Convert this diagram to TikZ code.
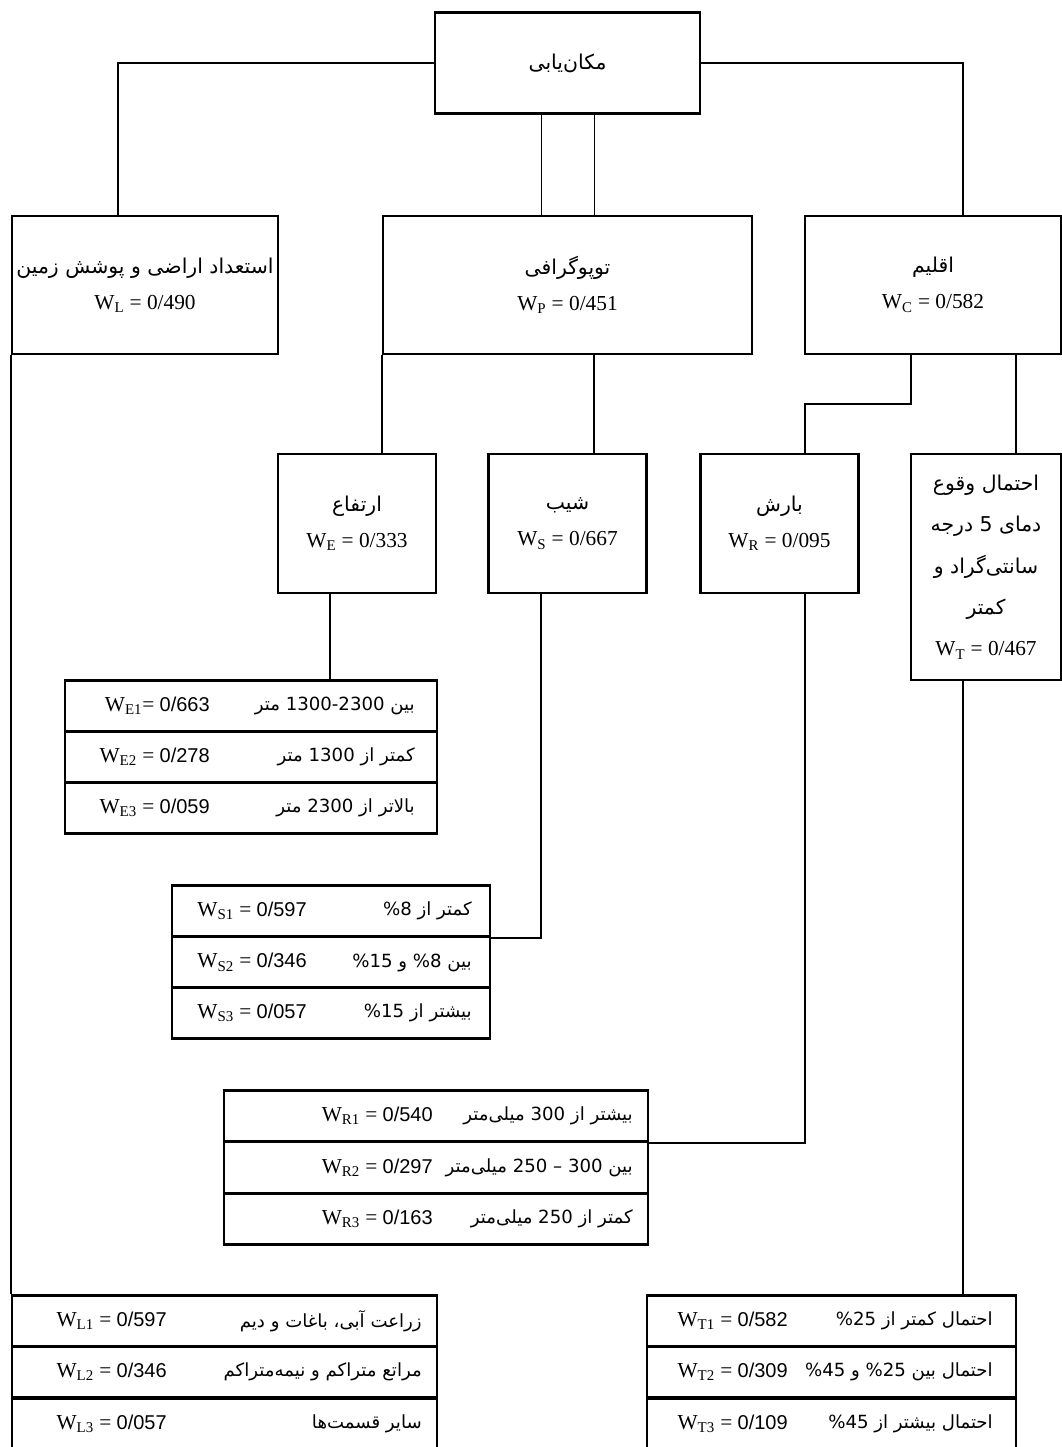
\documentclass[tikz,border=0pt]{standalone}
\usepackage{fontspec}
\setmainfont{Liberation Serif}
\newfontfamily\farsi[Script=Arabic,Scale=0.85]{DejaVu Sans}
\newfontfamily\arialfont{Liberation Sans}
\TeXXeTstate=1
\usetikzlibrary{positioning}

\newcommand{\fa}[1]{{\farsi\beginR #1\endR}}
\newcommand{\fb}[1]{{\fontsize{18}{27}\farsi\beginR #1\endR}}
\newcommand{\wsub}[1]{W\textsubscript{#1}}

\tikzset{
  box/.style={draw, line width=2pt, rectangle, inner sep=2pt, align=center,
    font=\fontsize{16}{27}\selectfont},
  row/.style={draw, line width=2pt, rectangle, minimum height=51*0.75pt},
  wlab/.style={anchor=east, inner sep=0pt, font=\fontsize{16}{18}\selectfont},
  plab/.style={anchor=east, inner sep=0pt, font=\fontsize{16}{18}\selectfont},
  link/.style={line width=1.6pt},
  thinlink/.style={line width=0.75pt},
}

\begin{document}
\begin{tikzpicture}[x=0.75pt, y=-0.75pt]
	\useasboundingbox (0,0) rectangle (1062,1447);
	% niveau 1
	\node[box, minimum width=265*0.75pt, minimum height=101*0.75pt] (loc) at (567.5,63) {\fb{مکان‌یابی}};
	% niveau 2
	\node[box, minimum width=266*0.75pt, minimum height=138*0.75pt] (L) at (145,285) {\fb{استعداد اراضی و پوشش زمین}\\ \wsub{L} = 0/490};
	\node[box, minimum width=369*0.75pt, minimum height=138*0.75pt] (P) at (567.5,285) {\fb{توپوگرافی}\\ \wsub{P} = 0/451};
	\node[box, minimum width=256*0.75pt, minimum height=138*0.75pt] (C) at (933,285) {\fb{اقلیم}\\ \wsub{C} = 0/582};
	% niveau 3
	\node[box, minimum width=158*0.75pt, minimum height=139*0.75pt] (E) at (357,523.5) {\fb{ارتفاع}\\ \wsub{E} = 0/333};
	\node[box, minimum width=158*0.75pt, minimum height=139*0.75pt] (S) at (567.5,523.5) {\fb{شیب}\\ \wsub{S} = 0/667};
	\node[box, minimum width=158*0.75pt, minimum height=139*0.75pt] (R) at (779.5,523.5) {\fb{بارش}\\ \wsub{R} = 0/095};
	\node[box, minimum width=150*0.75pt, minimum height=226*0.75pt, font=\fontsize{16}{31}\selectfont] (T) at (986,567) {\fb{احتمال وقوع}\\ \fb{دمای 5 درجه}\\ \fb{سانتی‌گراد و}\\ \fb{کمتر}\\ \wsub{T} = 0/467};

	% tableau E
	\node[row, minimum width=372*0.75pt] (E1) at (251,706) {};
	\node[row, minimum width=372*0.75pt] (E2) at (251,757) {};
	\node[row, minimum width=372*0.75pt] (E3) at (251,808) {};
	\node[wlab] (E1w) at (210,706) {\wsub{E1}= {\arialfont\fontsize{15}{18}\selectfont 0/663}};
	\node[wlab] (E2w) at (210,757) {\wsub{E2} = {\arialfont\fontsize{15}{18}\selectfont 0/278}};
	\node[wlab] (E3w) at (210,808) {\wsub{E3} = {\arialfont\fontsize{15}{18}\selectfont 0/059}};
	\node[plab] (E1p) at (415,706) {\fa{بین 1300-2300 متر}};
	\node[plab] (E2p) at (415,757) {\fa{کمتر از 1300 متر}};
	\node[plab] (E3p) at (415,808) {\fa{بالاتر از 2300 متر}};

	% tableau S
	\node[row, minimum width=318*0.75pt] (S1) at (331,911) {};
	\node[row, minimum width=318*0.75pt] (S2) at (331,962.5) {};
	\node[row, minimum width=318*0.75pt] (S3) at (331,1013) {};
	\node[wlab] (S1w) at (307,911) {\wsub{S1} = {\arialfont\fontsize{15}{18}\selectfont 0/597}};
	\node[wlab] (S2w) at (307,962.5) {\wsub{S2} = {\arialfont\fontsize{15}{18}\selectfont 0/346}};
	\node[wlab] (S3w) at (307,1013) {\wsub{S3} = {\arialfont\fontsize{15}{18}\selectfont 0/057}};
	\node[plab] (S1p) at (472,911) {\fa{کمتر از \%8}};
	\node[plab] (S2p) at (472,962.5) {\fa{بین \%8 و \%15}};
	\node[plab] (S3p) at (472,1013) {\fa{بیشتر از \%15}};

	% tableau R
	\node[row, minimum width=424*0.75pt] (R1) at (436,1116) {};
	\node[row, minimum width=424*0.75pt] (R2) at (436,1167.5) {};
	\node[row, minimum width=424*0.75pt] (R3) at (436,1219) {};
	\node[wlab] (R1w) at (433,1116) {\wsub{R1} = {\arialfont\fontsize{15}{18}\selectfont 0/540}};
	\node[wlab] (R2w) at (433,1167.5) {\wsub{R2} = {\arialfont\fontsize{15}{18}\selectfont 0/297}};
	\node[wlab] (R3w) at (433,1219) {\wsub{R3} = {\arialfont\fontsize{15}{18}\selectfont 0/163}};
	\node[plab] (R1p) at (633,1116) {\fa{بیشتر از 300 میلی‌متر}};
	\node[plab] (R2p) at (633,1167.5) {\fa{بین 300 – 250 میلی‌متر}};
	\node[plab] (R3p) at (633,1219) {\fa{کمتر از 250 میلی‌متر}};

	% tableau L
	\node[row, minimum width=425*0.75pt] (L1) at (224.5,1321) {};
	\node[row, minimum width=425*0.75pt] (L2) at (224.5,1372) {};
	\node[row, minimum width=425*0.75pt] (L3) at (224.5,1424) {};
	\node[wlab] (L1w) at (167,1321) {\wsub{L1} = {\arialfont\fontsize{15}{18}\selectfont 0/597}};
	\node[wlab] (L2w) at (167,1372) {\wsub{L2} = {\arialfont\fontsize{15}{18}\selectfont 0/346}};
	\node[wlab] (L3w) at (167,1424) {\wsub{L3} = {\arialfont\fontsize{15}{18}\selectfont 0/057}};
	\node[plab] (L1p) at (422,1321) {\fa{زراعت آبی، باغات و دیم}};
	\node[plab] (L2p) at (422,1372) {\fa{مراتع متراکم و نیمه‌متراکم}};
	\node[plab] (L3p) at (422,1424) {\fa{سایر قسمت‌ها}};

	% tableau T
	\node[row, minimum width=369*0.75pt] (T1) at (831.5,1321) {};
	\node[row, minimum width=369*0.75pt] (T2) at (831.5,1372) {};
	\node[row, minimum width=369*0.75pt] (T3) at (831.5,1424) {};
	\node[wlab] (T1w) at (788,1321) {\wsub{T1} = {\arialfont\fontsize{15}{18}\selectfont 0/582}};
	\node[wlab] (T2w) at (788,1372) {\wsub{T2} = {\arialfont\fontsize{15}{18}\selectfont 0/309}};
	\node[wlab] (T3w) at (788,1424) {\wsub{T3} = {\arialfont\fontsize{15}{18}\selectfont 0/109}};
	\node[plab] (T1p) at (993,1321) {\fa{احتمال کمتر از \%25}};
	\node[plab] (T2p) at (993,1372) {\fa{احتمال بین \%25 و \%45}};
	\node[plab] (T3p) at (993,1424) {\fa{احتمال بیشتر از \%45}};

	% liaisons
	\coordinate (jL) at (118,0);
	\coordinate (jC) at (963,0);
	\coordinate (tA) at (541,0);
	\coordinate (tB) at (594,0);
	\coordinate (jR) at (911,0);
	\coordinate (kR) at (805,404);
	\coordinate (jT) at (1016,0);
	\coordinate (jE) at (330,0);
	\draw[link] (loc.west) -| (L.north -| jL);
	\draw[link] (loc.east) -| (C.north -| jC);
	\draw[thinlink] (loc.south -| tA) -- (P.north -| tA);
	\draw[thinlink] (loc.south -| tB) -- (P.north -| tB);
	\draw[link] (L.south west) -- (L1.north west);
	\draw[link] (P.south west) -- (P.south west |- E.north);
	\draw[link] (P.south -| tB) -- (S.north -| tB);
	\draw[link] (C.south -| jR) |- (kR) -- (R.north -| kR);
	\draw[link] (C.south -| jT) -- (T.north -| jT);
	\draw[link] (E.south -| jE) -- (E1.north -| jE);
	\draw[link] (S.south -| tA) |- (S1.south east);
	\draw[link] (R.south -| kR) |- (R1.south east);
	\draw[link] (T.south -| jC) -- (T1.north -| jC);
\end{tikzpicture}
\end{document}
